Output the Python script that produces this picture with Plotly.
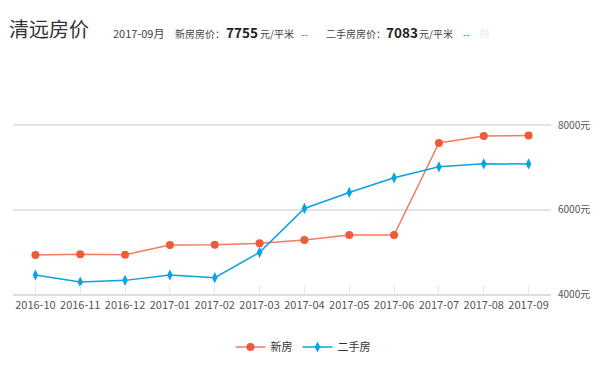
import plotly.graph_objects as go

months = ["2016-10", "2016-11", "2016-12", "2017-01", "2017-02", "2017-03",
          "2017-04", "2017-05", "2017-06", "2017-07", "2017-08", "2017-09"]
new_price = [4925, 4945, 4930, 5160, 5167, 5200, 5278, 5396, 5396, 7581, 7747, 7755]
used_price = [4450, 4284, 4323, 4450, 4387, 4987, 6028, 6407, 6753, 7014, 7085, 7083]
y_ticks = [4000, 6000, 8000]
y_tick_text = ["4000元", "6000元", "8000元"]

FONT = "Noto Sans CJK SC, Noto Sans, sans-serif"
RED = "#ee5a3a"
BLUE = "#0aa3e0"

# page body has an 8px margin; work in screen coords and shift
OFF = 8
W, H = 600 - OFF, 378 - 2 * OFF
Y0, Y1 = 4000, 8100
SCALE = (294 - 125) / 4000.0
PL, PR = 13 - OFF, 551 - OFF
PB = 294 - OFF
PT = 125 - (Y1 - 8000) * SCALE - OFF

fig = go.Figure()
fig.add_trace(go.Scatter(
    x=months, y=new_price, name="新房", mode="lines+markers",
    line=dict(color="#f47a60", width=1.5),
    marker=dict(symbol="circle", size=8, color=RED),
    cliponaxis=False,
))
fig.add_trace(go.Scatter(
    x=months, y=used_price, name="二手房", mode="lines+markers",
    line=dict(color=BLUE, width=1.5),
    marker=dict(symbol="diamond-tall", size=8, color=BLUE),
    cliponaxis=False,
))

fig.update_layout(
    width=W, height=H,
    margin=dict(l=PL, r=W - PR, t=PT, b=H - PB, autoexpand=False),
    paper_bgcolor="white", plot_bgcolor="white",
    font=dict(family=FONT, size=11, color="#555"),
    showlegend=True,
    legend=dict(orientation="h", x=(303 - OFF) / W, xanchor="center", xref="container",
                y=1 - (347 - OFF) / H, yanchor="middle", yref="container",
                font=dict(size=11, color="#333"), itemwidth=30, tracegroupgap=0),
    xaxis=dict(
        type="category", range=[-0.5, 11.5],
        showgrid=False, showline=True, linecolor="#ddd", linewidth=2,
        ticks="inside", ticklen=9, tickcolor="#e6e6e6", tickwidth=1,
        tickfont=dict(size=11, color="#555"), zeroline=False,
    ),
    yaxis=dict(
        side="right", range=[Y0, Y1], tickvals=y_ticks, ticktext=y_tick_text,
        showgrid=True, gridcolor="#e3e3e3", gridwidth=2, zeroline=False,
        showline=False, ticks="", ticklabelstandoff=6,
        tickfont=dict(size=10, color="#555"),
    ),
)

ann = [
    ("清远房价", 7, 28, dict(size=20, color="#333")),
    ("2017-09月", 111, 33, dict(size=11, color="#444")),
    ("新房房价：", 173, 33, dict(size=10, color="#444")),
    ("<b>7755</b>", 224, 32, dict(size=13.5, color="#222")),
    ("元/平米", 258, 33, dict(size=10, color="#444")),
    ("--", 299, 33, dict(size=10, color="#e03030")),
    ("二手房房价：", 324, 33, dict(size=10, color="#444")),
    ("<b>7083</b>", 384, 32, dict(size=13.5, color="#222")),
    ("元/平米", 417, 33, dict(size=10, color="#444")),
    ("--", 461, 33, dict(size=10, color="#e03030")),
    ("▤", 478, 33, dict(size=9, color="#c8c8c8")),
]
for text, x, y, f in ann:
    x -= OFF
    y -= OFF
    fig.add_annotation(text=text, x=(x - PL) / (PR - PL), y=(PB - y) / (PB - PT),
                       xref="paper", yref="paper", xanchor="left", yanchor="middle",
                       showarrow=False, font=dict(family=FONT, **f))

fig.write_html("out.html")
